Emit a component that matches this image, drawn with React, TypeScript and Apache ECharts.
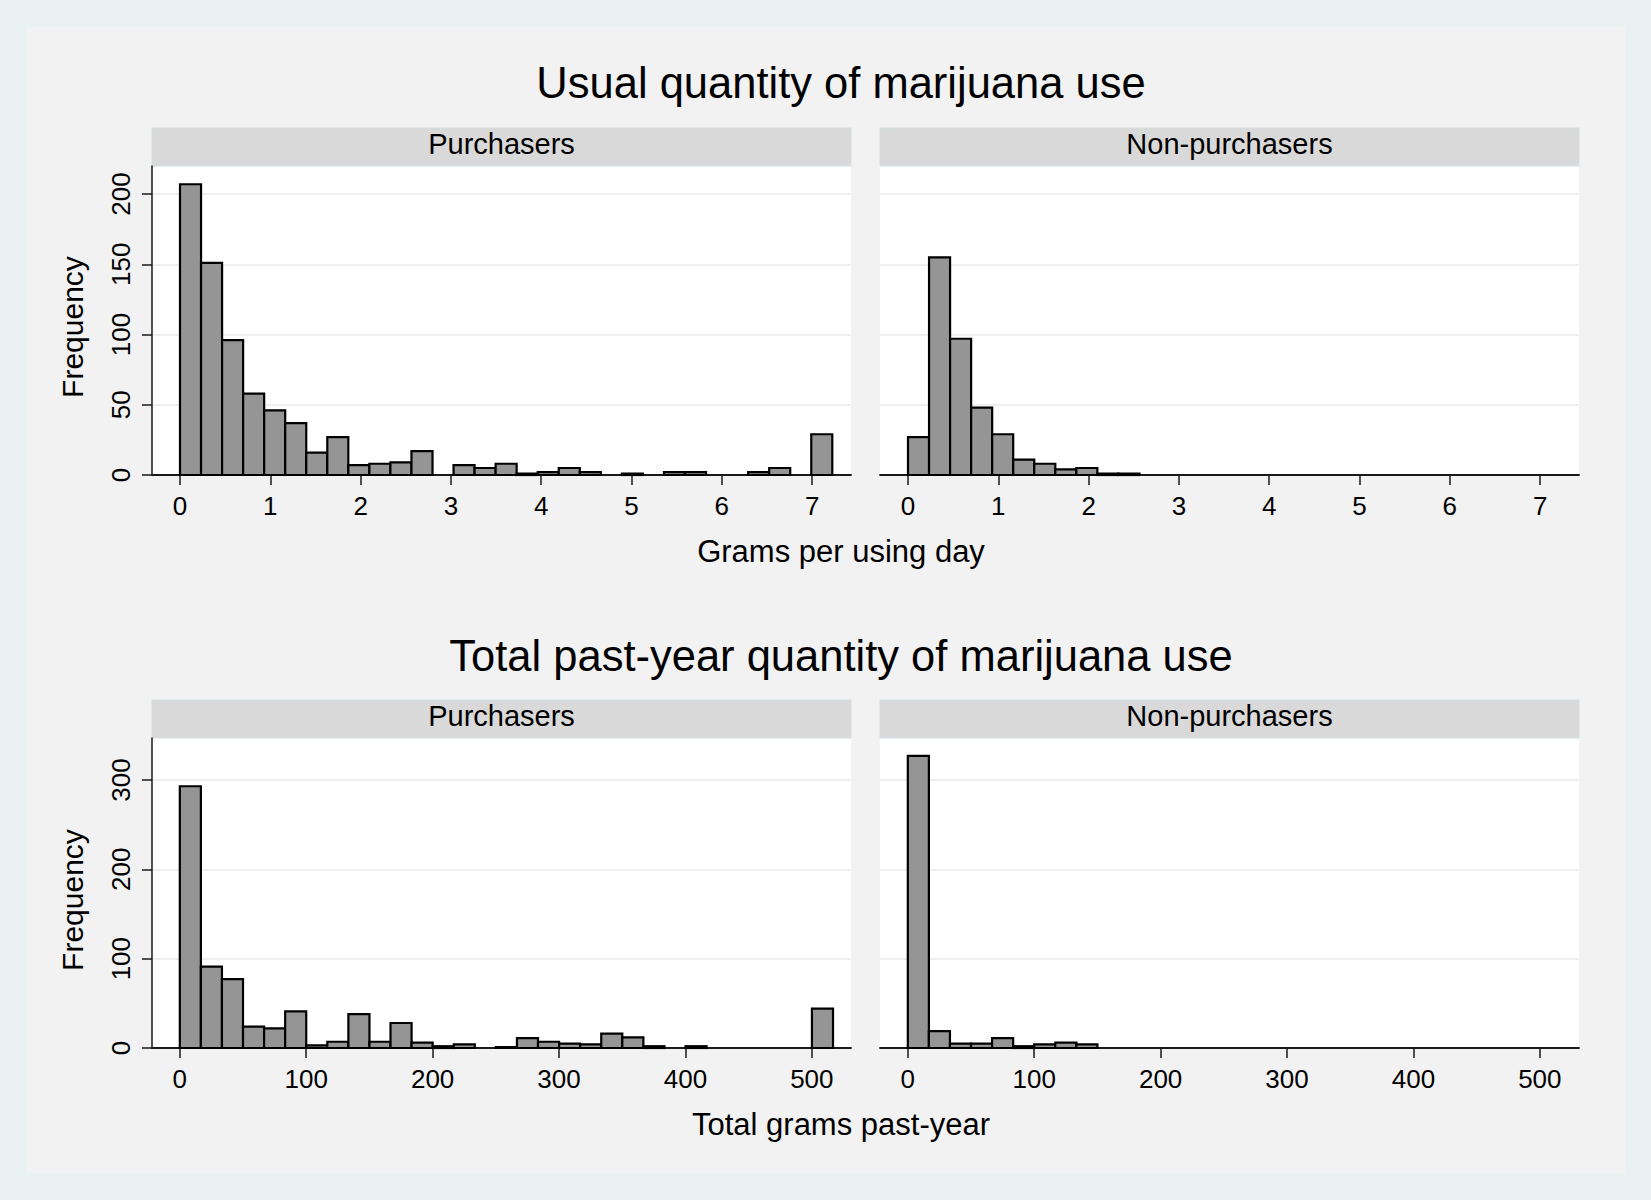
import React, { useEffect, useRef } from "react";
import * as echarts from "echarts";

// ---- Data ----
const usualTicks = [0, 1, 2, 3, 4, 5, 6, 7];
const totalTicks = [0, 100, 200, 300, 400, 500];
const freqTicksUsual = [0, 50, 100, 150, 200];
const freqTicksTotal = [0, 100, 200, 300];

const usualBinWidth = 0.233; // grams per using day
const totalBinWidth = 16.67; // total grams past-year

const usualPurchasers = [207, 151, 96, 58, 46, 37, 16, 27, 7, 8, 9, 17, 0, 7, 5, 8, 1, 2, 5, 2, 0, 1, 0, 2, 2, 0, 0, 2, 5, 0, 29];
const usualNonPurchasers = [27, 155, 97, 48, 29, 11, 8, 4, 5, 1, 1, 0, 0, 0, 0, 0, 0, 0, 0, 0, 0, 0, 0, 0, 0, 0, 0, 0, 0, 0, 0];
const totalPurchasers = [293, 91, 77, 24, 22, 41, 3, 7, 38, 7, 28, 6, 2, 4, 0, 1, 11, 7, 5, 4, 16, 12, 2, 0, 2, 0, 0, 0, 0, 0, 44];
const totalNonPurchasers = [327, 19, 5, 5, 11, 2, 4, 6, 4, 0, 0, 0, 0, 0, 0, 0, 0, 0, 0, 0, 0, 0, 0, 0, 0, 0, 0, 0, 0, 0, 0];

const groups = ["Purchasers", "Non-purchasers"];
const titles = ["Usual quantity of marijuana use", "Total past-year quantity of marijuana use"];
const xTitles = ["Grams per using day", "Total grams past-year"];
const yTitle = "Frequency";

const FONT = "'Liberation Sans', Arial, Helvetica, sans-serif";

function toBins(counts: number[], w: number) {
  return counts
    .map((c, i) => [i * w, (i + 1) * w, c])
    .filter((d) => d[2] > 0);
}

export default function App() {
  const ref = useRef<HTMLDivElement>(null);
  useEffect(() => {
    if (!ref.current) return;
    const chart = echarts.init(ref.current, undefined, { renderer: "svg" });

    const gridLefts = [152, 880];
    const gridTops = [166, 738];
    const gridW = 699;
    const gridHs = [309, 310];

    const grids: any[] = [];
    const xAxes: any[] = [];
    const yAxes: any[] = [];
    const series: any[] = [];
    const panelData = [
      [usualPurchasers, usualNonPurchasers],
      [totalPurchasers, totalNonPurchasers],
    ];
    const binW = [usualBinWidth, totalBinWidth];
    const xRange = [
      [-0.31, 7.43],
      [-22, 531],
    ];
    const yMax = [220, 347];
    const xTickVals = [usualTicks, totalTicks];
    const yTickVals = [freqTicksUsual, freqTicksTotal];

    let idx = 0;
    for (let r = 0; r < 2; r++) {
      for (let c = 0; c < 2; c++) {
        grids.push({
          left: gridLefts[c],
          top: gridTops[r],
          width: gridW,
          height: gridHs[r],
          show: true,
          backgroundColor: "#FFFFFF",
          borderWidth: 0,
        });
        xAxes.push({
          type: "value",
          gridIndex: idx,
          min: xRange[r][0],
          max: xRange[r][1],
          axisLine: { show: true, onZero: false, lineStyle: { color: "#1a1a1a", width: 1.8 } },
          axisTick: { show: true, length: 10, customValues: xTickVals[r], lineStyle: { color: "#1a1a1a", width: 1.5 } },
          axisLabel: { show: true, customValues: xTickVals[r], margin: 18, fontSize: 26, color: "#000", fontFamily: FONT },
          splitLine: { show: false },
        });
        yAxes.push({
          type: "value",
          gridIndex: idx,
          min: 0,
          max: yMax[r],
          axisLine: { show: c === 0, onZero: false, lineStyle: { color: "#1a1a1a", width: 1.5 } },
          axisTick: { show: c === 0, length: 10, customValues: yTickVals[r], lineStyle: { color: "#1a1a1a", width: 1.5 } },
          axisLabel: { show: c === 0, customValues: yTickVals[r], rotate: 90, margin: 18, fontSize: 26, color: "#000", fontFamily: FONT },
          splitLine: { show: true, lineStyle: { color: "#EAEAEA", width: 1.6 } },
        });
        series.push({
          type: "custom",
          xAxisIndex: idx,
          yAxisIndex: idx,
          data: toBins(panelData[r][c], binW[r]),
          encode: { x: [0, 1], y: 2 },
          renderItem: (params: any, api: any) => {
            const x0 = api.value(0);
            const x1 = api.value(1);
            const h = api.value(2);
            const p0 = api.coord([x0, h]);
            const p1 = api.coord([x1, 0]);
            return {
              type: "rect",
              shape: { x: p0[0], y: p0[1], width: p1[0] - p0[0], height: p1[1] - p0[1] },
              style: { fill: "#959595", stroke: "#000", lineWidth: 2.2 },
            };
          },
        });
        idx++;
      }
    }

    const graphic: any[] = [];
    const stripTops = [128, 700];
    for (let r = 0; r < 2; r++) {
      for (let c = 0; c < 2; c++) {
        graphic.push({
          type: "rect",
          shape: { x: gridLefts[c], y: stripTops[r], width: gridW, height: gridTops[r] - stripTops[r] },
          style: { fill: "#D9D9D9", stroke: "#D4E0E4", lineWidth: 1 },
        });
        graphic.push({
          type: "text",
          x: gridLefts[c] + gridW / 2,
          y: (stripTops[r] + gridTops[r]) / 2 - 3,
          style: { text: groups[c], fill: "#000", fontSize: 29, fontFamily: FONT, align: "center", verticalAlign: "middle" },
        });
      }
    }
    const titleYs = [83, 656];
    const xTitleYs = [551, 1124];
    const freqYs = [327, 900];
    for (let r = 0; r < 2; r++) {
      graphic.push({
        type: "text",
        x: 841,
        y: titleYs[r],
        style: { text: titles[r], fill: "#000", fontSize: 43.5, fontFamily: FONT, align: "center", verticalAlign: "middle" },
      });
      graphic.push({
        type: "text",
        x: 841,
        y: xTitleYs[r],
        style: { text: xTitles[r], fill: "#000", fontSize: 31, fontFamily: FONT, align: "center", verticalAlign: "middle" },
      });
      graphic.push({
        type: "text",
        x: 72,
        y: freqYs[r],
        rotation: Math.PI / 2,
        style: { text: yTitle, fill: "#000", fontSize: 30, fontFamily: FONT, align: "center", verticalAlign: "middle" },
      });
    }

    chart.setOption({
      animation: false,
      backgroundColor: "transparent",
      textStyle: { fontFamily: FONT },
      grid: grids,
      xAxis: xAxes,
      yAxis: yAxes,
      series,
      graphic,
    });
    return () => chart.dispose();
  }, []);

  return (
    <div style={{ position: "fixed", left: 0, top: 0, width: 1651, height: 1200, background: "#EAF1F3" }}>
      <div style={{ position: "absolute", left: 27, top: 27, width: 1598, height: 1146, background: "#F2F2F2" }} />
      <div ref={ref} style={{ position: "absolute", left: 0, top: 0, width: 1651, height: 1200 }} />
    </div>
  );
}
